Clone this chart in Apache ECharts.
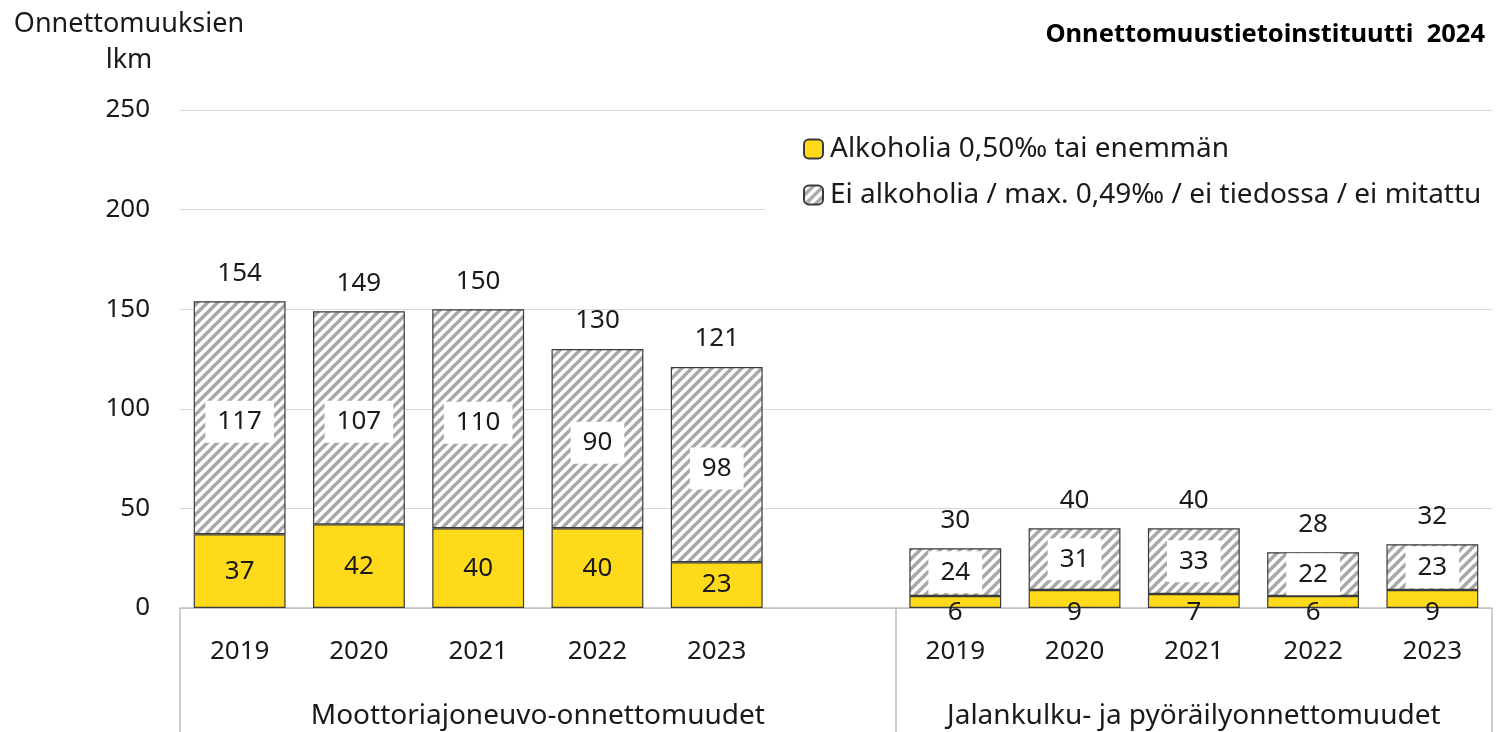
<!DOCTYPE html>
<html>
<head>
<meta charset="utf-8">
<script src="https://cdn.jsdelivr.net/npm/echarts@6/dist/echarts.min.js"></script>
<style>
  html, body { margin: 0; padding: 0; background: #fff; }
  #chart { width: 1501px; height: 732px; }
</style>
</head>
<body>
<div id="chart"></div>
<script>
// data
const years = ["2019", "2020", "2021", "2022", "2023", "", "2019", "2020", "2021", "2022", "2023"];
const alcohol = [37, 42, 40, 40, 23, null, 6, 9, 7, 6, 9];
const noAlcohol = [117, 107, 110, 90, 98, null, 24, 31, 33, 22, 23];
const totals = [154, 149, 150, 130, 121, null, 30, 40, 40, 28, 32];
const groups = ["Moottoriajoneuvo-onnettomuudet", "Jalankulku- ja pyöräilyonnettomuudet"];
const seriesNames = ["Alkoholia 0,50\u2030 tai enemmän", "Ei alkoholia / max. 0,49\u2030 / ei tiedossa / ei mitattu"];

const font = "Noto Sans";
const textColor = "#1a1a1a";
const numSize = 26;
const wordSize = 28;

// diagonal hatch pattern, stripes going up to the right
function makeHatch() {
  let c = document.createElement("canvas");
  let s = 10;
  c.width = s;
  c.height = s;
  let ctx = c.getContext("2d");
  ctx.fillStyle = "#fff";
  ctx.fillRect(0, 0, s, s);
  ctx.strokeStyle = "#a8a8a8";
  ctx.lineWidth = 3.4;
  ctx.beginPath();
  for (let k = -1; k <= 3; k++) {
    // line x + y = k*s
    ctx.moveTo(k * s + s, -s);
    ctx.lineTo(k * s - 2 * s, 2 * s);
  }
  ctx.stroke();
  return c;
}
const hatch = makeHatch();

const alcoholData = alcohol.map((v, i) => {
  if (i > 5) {
    return { value: v, label: { position: "bottom", distance: -8 } };
  }
  return v;
});

const noAlcoholData = noAlcohol.map((v, i) => {
  if (i < 5) {
    return { value: v, label: { offset: [0, 4] } };
  }
  return v;
});

let dom = document.getElementById("chart");
let myChart = echarts.init(dom, null, { renderer: "canvas" });

let option = {
  animation: false,
  textStyle: { fontFamily: font },
  title: [
    {
      text: "Onnettomuuksien\nlkm",
      left: 124,
      top: 1,
      textAlign: "center",
      textStyle: { fontFamily: font, fontSize: 27, fontWeight: "normal", color: textColor, lineHeight: 36 }
    },
    {
      text: "Onnettomuustietoinstituutti  2024",
      right: 11,
      top: 17,
      textStyle: { fontFamily: font, fontSize: 25.5, fontWeight: "bold", color: "#000" }
    }
  ],
  legend: {
    data: seriesNames,
    orient: "vertical",
    left: 765,
    top: 122,
    padding: [13, 12, 14, 38],
    backgroundColor: "#fff",
    itemWidth: 19,
    itemHeight: 19,
    itemGap: 18,
    textStyle: { fontFamily: font, fontSize: wordSize, color: textColor, padding: [0, 0, 0, 2] }
  },
  grid: { left: 180, right: 9, top: 110, bottom: 124, containLabel: false },
  xAxis: [
    {
      type: "category",
      data: years,
      axisLine: { lineStyle: { color: "#bfbfbf", width: 1.5 } },
      axisTick: { show: false },
      axisLabel: { fontFamily: font, fontSize: numSize, color: textColor, margin: 31, interval: 0 }
    },
    {
      type: "value",
      position: "bottom",
      min: 0,
      max: years.length,
      axisLine: { show: false },
      splitLine: { show: false },
      axisTick: {
        show: true,
        customValues: [0, 6, years.length],
        length: 124,
        lineStyle: { color: "#bfbfbf", width: 1.5 }
      },
      axisLabel: {
        customValues: [3, 8.5],
        margin: 94,
        fontFamily: font,
        fontSize: wordSize,
        color: textColor,
        formatter: (v) => (v < 6 ? groups[0] : groups[1])
      }
    }
  ],
  yAxis: {
    type: "value",
    min: 0,
    max: 250,
    interval: 50,
    axisLine: { show: false },
    axisTick: { show: false },
    splitLine: { lineStyle: { color: "#d9d9d9", width: 1.2 } },
    axisLabel: { fontFamily: font, fontSize: numSize, color: textColor, margin: 30 }
  },
  series: [
    {
      name: seriesNames[0],
      type: "bar",
      stack: "a",
      barCategoryGap: "23%",
      data: alcoholData,
      itemStyle: { color: "#ffda1a", borderColor: "#3a3a3a", borderWidth: 1.2 },
      label: { show: true, position: "inside", fontFamily: font, fontSize: numSize, color: textColor }
    },
    {
      name: seriesNames[1],
      type: "bar",
      stack: "a",
      data: noAlcoholData,
      itemStyle: { color: { image: hatch, repeat: "repeat" }, borderColor: "#3a3a3a", borderWidth: 1.2 },
      label: {
        show: true,
        position: "inside",
        fontFamily: font,
        fontSize: numSize,
        color: textColor,
        backgroundColor: "#fff",
        padding: [8, 12]
      }
    },
    {
      name: "total",
      type: "bar",
      stack: "a",
      data: totals.map((v) => (v == null ? null : 0)),
      itemStyle: { color: "transparent", borderWidth: 0 },
      label: {
        show: true,
        position: "top",
        distance: 15,
        fontFamily: font,
        fontSize: numSize,
        color: textColor,
        formatter: (p) => totals[p.dataIndex]
      }
    }
  ]
};

myChart.setOption(option);
window.addEventListener("resize", myChart.resize);
</script>
</body>
</html>
